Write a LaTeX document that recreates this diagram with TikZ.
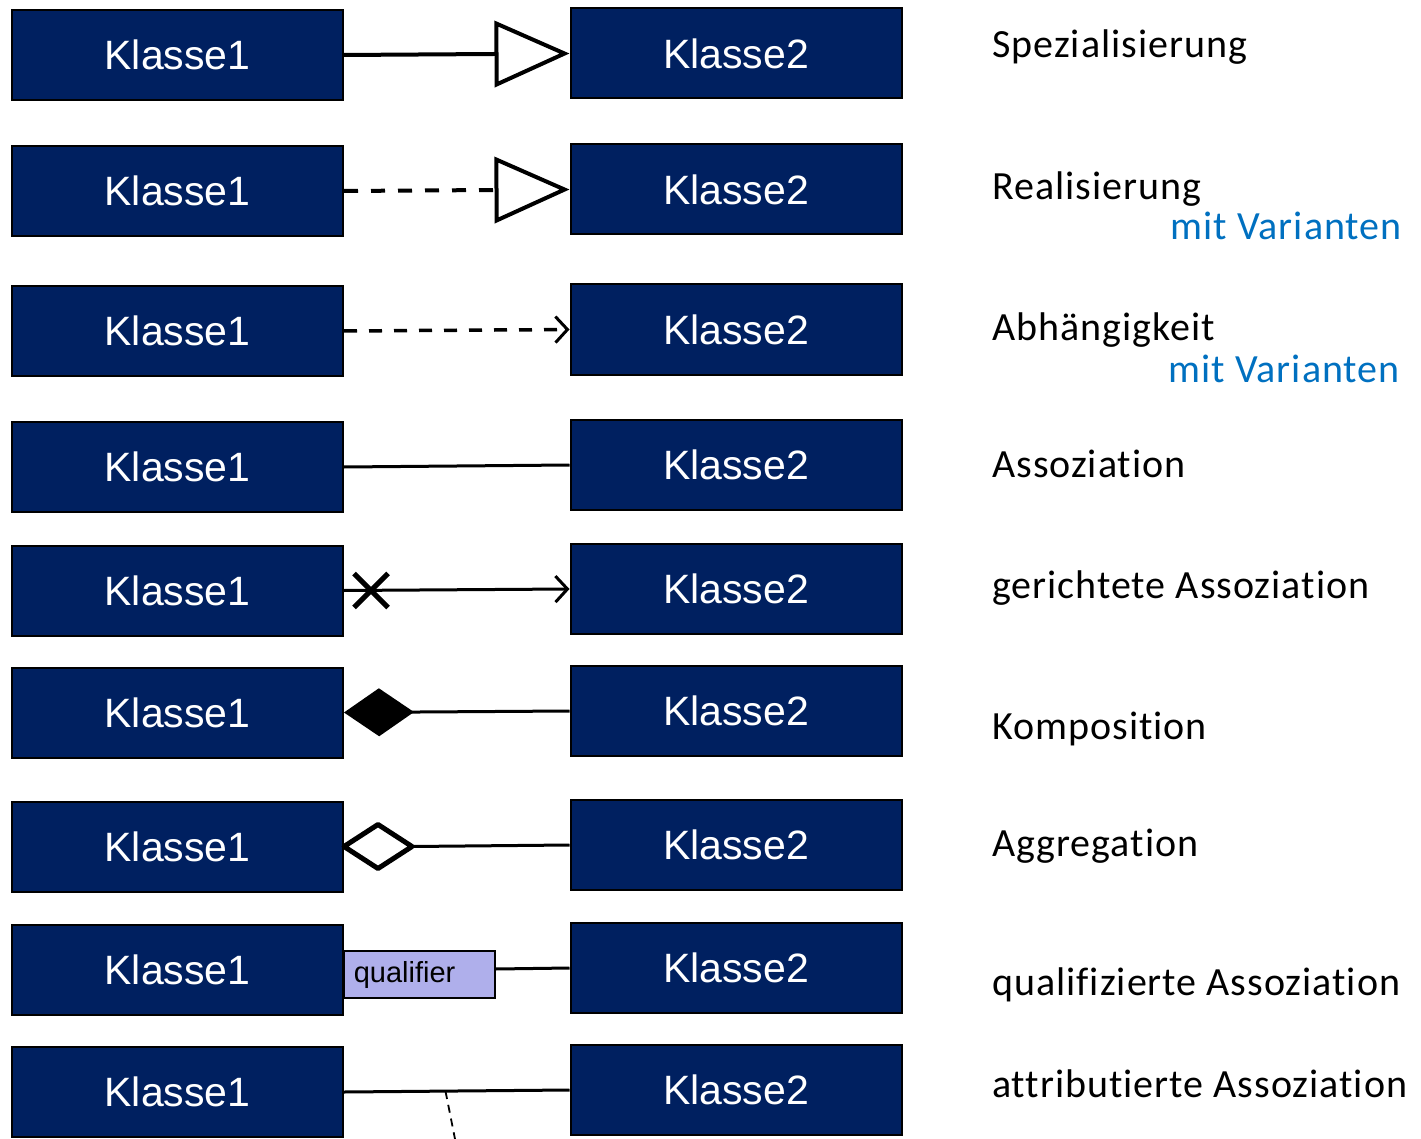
\documentclass[tikz,border=0pt]{standalone}
\usepackage{fontspec}
\setmainfont{Carlito}[Ligatures=NoCommon,LetterSpace=2.5]
\newfontfamily\boxfont{Liberation Sans}
\usetikzlibrary{arrows.meta,shapes.misc,calc}
\definecolor{navy}{RGB}{0,32,96}
\definecolor{varblue}{RGB}{0,112,192}
\definecolor{qualfill}{RGB}{175,175,235}
\begin{document}
\begin{tikzpicture}[x=1pt,y=-1pt,
  cls/.style={draw=black,line width=2pt,fill=navy,minimum width=331pt,minimum height=90pt,
    inner sep=0pt,text=white,font=\boxfont\fontsize{41}{48}\selectfont},
  lbl/.style={anchor=base west,inner sep=0pt,font=\fontsize{40}{46}\selectfont},
  var/.style={anchor=base east,inner sep=0pt,text=varblue,font=\fontsize{40}{46}\selectfont},
  conn/.style={line width=3pt},
  gen/.style={line width=4pt,-{Triangle[open,length=75pt,width=66pt]}},
  dep/.style={line width=3.5pt,dash pattern=on 13pt off 12pt},
  openarr/.style={-{Straight Barb[length=12pt,width=26pt,line width=3pt]}},
]
\useasboundingbox (0,0) rectangle (1421,1139);

% Spezialisierung
\node[cls] (a1) at (177.5,55) {Klasse1};
\node[cls] (a2) at (736,53.5) {Klasse2};
\draw[gen] (a1.east) -- (a2.west);
\node[lbl] (la) at (992,58) {Spezialisierung};

% Realisierung
\node[cls] (b1) at (177.5,191) {Klasse1};
\node[cls] (b2) at (736,189.5) {Klasse2};
\draw[line width=4pt,dash pattern=on 14pt off 13pt] (b1.east) -- ($(b1.east)!0.67!(b2.west)$);
\draw[gen] ($(b1.east)!0.67!(b2.west)$) -- (b2.west);
\node[lbl] (lb) at (992,200) {Realisierung};
\node[var] (lbv) at (1402,240) {mit Varianten};

% Abhaengigkeit
\node[cls] (c1) at (177.5,331) {Klasse1};
\node[cls] (c2) at (736,329.5) {Klasse2};
\draw[dep,openarr] (c1.east) -- (c2.west);
\node[lbl] (lc) at (992,341) {Abhängigkeit};
\node[var] (lcv) at (1400,382) {mit Varianten};

% Assoziation
\node[cls] (d1) at (177.5,467) {Klasse1};
\node[cls] (d2) at (736,465) {Klasse2};
\draw[conn] (d1.east) -- (d2.west);
\node[lbl] (ld) at (992,477) {Assoziation};

% gerichtete Assoziation
\node[cls] (e1) at (177.5,590.5) {Klasse1};
\node[cls] (e2) at (736,589) {Klasse2};
\draw[conn,openarr] (e1.east) -- (e2.west);
\node[cross out,draw,line width=5pt,minimum size=29pt,inner sep=0pt] (ex) at (371,590.5) {};
\node[lbl] (le) at (992,598) {gerichtete Assoziation};

% Komposition
\node[cls] (f1) at (177.5,712.5) {Klasse1};
\node[cls] (f2) at (736,711) {Klasse2};
\draw[conn,{Diamond[length=70pt,width=48pt]}-] (f1.east) -- (f2.west);
\node[lbl] (lf) at (992,739) {Komposition};

% Aggregation
\node[cls] (g1) at (177.5,846.5) {Klasse1};
\node[cls] (g2) at (736,845) {Klasse2};
\draw[conn] ($(g1.east)+(68,0)$) -- (g2.west);
\draw[line width=5pt,line join=round,fill=white]
  (g1.east) -- ++(34,-22) -- ++(34,22) -- ++(-34,22) -- cycle;
\node[lbl] (lg) at (992,856) {Aggregation};

% qualifizierte Assoziation
\node[cls] (h1) at (177.5,970) {Klasse1};
\node[cls] (h2) at (736,968) {Klasse2};
\node[draw=black,line width=1.5pt,fill=qualfill,minimum width=151pt,minimum height=47pt,
  inner sep=0pt,anchor=west,font=\boxfont\fontsize{29}{34}\selectfont] (q) at (343,974.5)
  {\makebox[131pt][l]{\raisebox{3pt}{qualifier}}};
\draw[conn] (q.east |- 0,969) -- (h2.west);
\node[lbl] (lh) at (992,995) {qualifizierte Assoziation};

% attributierte Assoziation
\node[cls] (i1) at (177.5,1092) {Klasse1};
\node[cls] (i2) at (736,1090) {Klasse2};
\draw[conn] (i1.east) -- (i2.west);
\coordinate (att) at ($(i1.east)!0.45!(i2.west)$);
\coordinate (attend) at (455,1139);
\draw[line width=1.8pt,dash pattern=on 8pt off 6pt] (att) -- (attend);
\node[lbl] (li) at (992,1097) {attributierte Assoziation};
\end{tikzpicture}
\end{document}
